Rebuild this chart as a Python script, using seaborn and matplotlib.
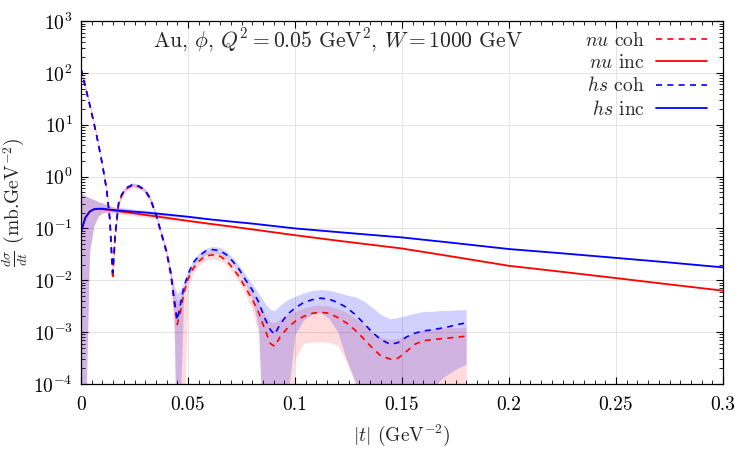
import numpy as np
import pandas as pd
import matplotlib
matplotlib.use("Agg")
import matplotlib.pyplot as plt
import matplotlib.ticker as mticker
import seaborn as sns

# ---------------- data ----------------
t_coh = [0, 0.002, 0.004, 0.006, 0.008, 0.010, 0.012, 0.0135, 0.0148, 0.016,
         0.0175, 0.019, 0.021, 0.024, 0.027, 0.030, 0.0325, 0.035, 0.0375, 0.040,
         0.042, 0.0435, 0.045, 0.0465, 0.048, 0.050, 0.0525, 0.055, 0.058, 0.0615,
         0.065, 0.068, 0.071, 0.074, 0.077, 0.080, 0.083, 0.086, 0.0885, 0.0905,
         0.093, 0.0965, 0.100, 0.104, 0.108, 0.112, 0.116, 0.120, 0.124, 0.128,
         0.132, 0.136, 0.140, 0.1445, 0.148, 0.152, 0.156, 0.160, 0.164, 0.168,
         0.172, 0.176, 0.180]

hs_coh = [120, 55, 25, 11, 4.5, 1.7, 0.55, 0.15, 0.014, 0.08,
          0.3, 0.45, 0.6, 0.7, 0.66, 0.55, 0.37, 0.19, 0.083, 0.036,
          0.014, 0.0045, 0.0017, 0.0035, 0.0072, 0.013, 0.022, 0.029, 0.036, 0.039,
          0.037, 0.031, 0.023, 0.016, 0.010, 0.0065, 0.0038, 0.0018, 0.0011, 0.0009,
          0.0014, 0.0022, 0.0029, 0.0037, 0.0042, 0.0045, 0.0043, 0.0037, 0.0030, 0.0022,
          0.0015, 0.0010, 0.00072, 0.00058, 0.00062, 0.0008, 0.00095, 0.00105, 0.0011, 0.00118,
          0.00127, 0.0014, 0.0015]
hs_coh_hi = [130, 59, 27, 11.9, 4.9, 1.84, 0.6, 0.165, 0.017, 0.088,
             0.33, 0.49, 0.65, 0.76, 0.71, 0.59, 0.4, 0.205, 0.09, 0.039,
             0.016, 0.008, 0.0055, 0.0065, 0.009, 0.015, 0.025, 0.033, 0.041, 0.045,
             0.043, 0.036, 0.027, 0.019, 0.0125, 0.0085, 0.0055, 0.0036, 0.0027, 0.0026,
             0.0033, 0.0042, 0.0049, 0.0057, 0.0063, 0.0066, 0.0064, 0.0058, 0.0052, 0.0048,
             0.0040, 0.0030, 0.0022, 0.0018, 0.0019, 0.0021, 0.0023, 0.0025, 0.0025, 0.0026,
             0.0026, 0.0027, 0.0027]
hs_coh_lo = [112, 51, 23, 10.2, 4.2, 1.58, 0.51, 0.14, 0.012, 0.074,
             0.28, 0.42, 0.56, 0.65, 0.61, 0.51, 0.34, 0.177, 0.077, 0.033,
             0.011, 0.002, 1e-6, 5e-5, 0.0055, 0.011, 0.019, 0.025, 0.031, 0.034,
             0.032, 0.027, 0.020, 0.0135, 0.0082, 0.0045, 0.0012, 1e-6, 1e-6, 1e-6,
             1e-6, 5e-5, 0.0009, 0.0017, 0.0022, 0.0024, 0.0018, 0.0010, 0.0003, 0.00011,
             1e-6, 1e-6, 1e-6, 1e-6, 1e-6, 1e-6, 1e-6, 1e-6, 0.00008, 0.00012,
             0.00016, 0.0002, 0.00024]

nu_coh = [120, 55, 25, 11, 4.5, 1.7, 0.55, 0.14, 0.0105, 0.07,
          0.28, 0.43, 0.58, 0.68, 0.64, 0.53, 0.35, 0.18, 0.078, 0.033,
          0.012, 0.0038, 0.0014, 0.0025, 0.0055, 0.0105, 0.017, 0.023, 0.029, 0.031,
          0.029, 0.024, 0.017, 0.0115, 0.007, 0.0043, 0.0024, 0.0011, 0.0006, 0.00053,
          0.0008, 0.0012, 0.0016, 0.0020, 0.0023, 0.0024, 0.0023, 0.0019, 0.0015, 0.0011,
          0.00075, 0.0005, 0.00035, 0.0003, 0.00031, 0.00042, 0.00058, 0.00068, 0.00071, 0.00074,
          0.00077, 0.0008, 0.00083]
nu_coh_hi = [130, 59, 27, 11.9, 4.9, 1.84, 0.6, 0.155, 0.013, 0.078,
             0.31, 0.47, 0.63, 0.74, 0.69, 0.57, 0.38, 0.195, 0.085, 0.036,
             0.014, 0.006, 0.004, 0.0045, 0.0075, 0.0125, 0.02, 0.027, 0.034, 0.036,
             0.034, 0.028, 0.020, 0.0138, 0.0088, 0.0058, 0.0036, 0.0022, 0.0016, 0.0015,
             0.0018, 0.0022, 0.0025, 0.0029, 0.0032, 0.0033, 0.0032, 0.0028, 0.0024, 0.0019,
             0.0014, 0.001, 0.0008, 0.00072, 0.00074, 0.00085, 0.001, 0.0011, 0.00115, 0.00118,
             0.0012, 0.00122, 0.00125]
nu_coh_lo = [108, 50, 22.5, 9.9, 4.0, 1.5, 0.49, 0.125, 0.0085, 0.062,
             0.25, 0.39, 0.52, 0.61, 0.58, 0.48, 0.31, 0.16, 0.07, 0.029,
             0.0095, 0.001, 1e-6, 1e-6, 1e-5, 0.007, 0.014, 0.019, 0.024, 0.026,
             0.024, 0.020, 0.014, 0.009, 0.0052, 0.0028, 0.0009, 1e-6, 1e-6, 1e-6,
             1e-6, 1e-6, 0.0003, 0.0006, 0.00064, 0.00065, 0.00063, 0.00055, 0.00028, 0.00011,
             1e-6, 1e-6, 1e-6, 1e-6, 1e-6, 1e-6, 1e-6, 1e-6, 1e-6, 1e-6,
             1e-6, 1e-6, 1e-6]

t_inc = [0, 0.002, 0.004, 0.006, 0.008, 0.010, 0.013, 0.016, 0.02, 0.025,
         0.03, 0.04, 0.05, 0.06, 0.07, 0.08, 0.1, 0.12, 0.15, 0.175,
         0.2, 0.225, 0.25, 0.275, 0.3]
hs_inc = [0.085, 0.16, 0.21, 0.235, 0.24, 0.24, 0.232, 0.225, 0.218, 0.21,
          0.203, 0.185, 0.168, 0.15, 0.136, 0.124, 0.1, 0.085, 0.067, 0.052,
          0.04, 0.033, 0.027, 0.022, 0.0177]
hs_inc_hi = [0.49, 0.43, 0.39, 0.36, 0.33, 0.31, 0.28, 0.26, 0.25, 0.235,
             0.222, 0.198, 0.176, 0.155, 0.14, 0.127, 0.102, 0.087, 0.068, 0.053,
             0.041, 0.0335, 0.0275, 0.0224, 0.018]
hs_inc_lo = [1e-6, 1e-5, 0.035, 0.11, 0.17, 0.2, 0.205, 0.205, 0.2, 0.193,
             0.188, 0.174, 0.16, 0.145, 0.132, 0.121, 0.098, 0.083, 0.066, 0.051,
             0.039, 0.0325, 0.0265, 0.0216, 0.0174]
nu_inc = [0.085, 0.16, 0.21, 0.232, 0.236, 0.235, 0.228, 0.22, 0.208, 0.195,
          0.182, 0.16, 0.14, 0.123, 0.109, 0.096, 0.074, 0.058, 0.041, 0.028,
          0.019, 0.0145, 0.011, 0.0083, 0.0063]
nu_inc_hi = [0.49, 0.43, 0.39, 0.36, 0.33, 0.31, 0.27, 0.25, 0.235, 0.218,
             0.202, 0.172, 0.148, 0.128, 0.113, 0.099, 0.076, 0.06, 0.042, 0.029,
             0.0195, 0.0149, 0.0113, 0.0085, 0.0065]
nu_inc_lo = [1e-6, 1e-5, 0.035, 0.11, 0.17, 0.2, 0.2, 0.195, 0.185, 0.174,
             0.164, 0.148, 0.132, 0.118, 0.105, 0.093, 0.072, 0.056, 0.04, 0.027,
             0.0185, 0.0141, 0.0107, 0.0081, 0.0061]

labels = [r"$nu$ coh", r"$nu$ inc", r"$hs$ coh", r"$hs$ inc"]
title_text = r"Au, $\phi$, $Q^2 = 0.05$ GeV$^2$, $W = 1000$ GeV"
xlabel_text = r"$|t|$ (GeV$^{-2}$)"
ylabel_text = r"$\frac{d\sigma}{dt}$ (mb.GeV$^{-2}$)"

# ---------------- style ----------------
sns.set_theme(style="ticks")
plt.rcParams.update({
    "font.family": ["cmr10", "DejaVu Serif"],
    "mathtext.fontset": "cm",
    "axes.formatter.use_mathtext": True,
    "axes.unicode_minus": False,
    "font.size": 14,
})

RED = (1, 0, 0)
BLUE = (0, 0, 1)

fig = plt.figure(figsize=(7.5, 4.5), dpi=100)
ax = fig.add_axes([0.108, 0.147, 0.856, 0.806])

coh = pd.DataFrame({"t": t_coh, "hs": hs_coh, "nu": nu_coh})
inc = pd.DataFrame({"t": t_inc, "hs": hs_inc, "nu": nu_inc})

# error bands (red first, blue on top gives a bluish purple overlap)
ax.fill_between(t_inc, nu_inc_lo, nu_inc_hi, color=RED, alpha=0.14, lw=0)
ax.fill_between(t_inc, hs_inc_lo, hs_inc_hi, color=BLUE, alpha=0.18, lw=0)
ax.fill_between(t_coh, nu_coh_lo, nu_coh_hi, color=RED, alpha=0.14, lw=0)
ax.fill_between(t_coh, hs_coh_lo, hs_coh_hi, color=BLUE, alpha=0.18, lw=0)

dash = (0, (3.6, 3.2))
sns.lineplot(data=coh, x="t", y="nu", ax=ax, color=RED, linestyle=dash,
             lw=1.2, label=labels[0], estimator=None, sort=False)
sns.lineplot(data=inc, x="t", y="nu", ax=ax, color=RED, lw=1.3,
             label=labels[1], estimator=None, sort=False)
sns.lineplot(data=coh, x="t", y="hs", ax=ax, color=BLUE, linestyle=dash,
             lw=1.2, label=labels[2], estimator=None, sort=False)
sns.lineplot(data=inc, x="t", y="hs", ax=ax, color=BLUE, lw=1.3,
             label=labels[3], estimator=None, sort=False)

ax.set_yscale("log")
ax.set_xlim(0, 0.3)
ax.set_ylim(1e-4, 1e3)

ax.xaxis.set_major_locator(mticker.MultipleLocator(0.05))
ax.xaxis.set_minor_locator(mticker.MultipleLocator(0.005))
ax.xaxis.set_major_formatter(mticker.FuncFormatter(lambda v, p: f"{v:g}"))
ax.yaxis.set_major_locator(mticker.LogLocator(base=10, numticks=20))
ax.yaxis.set_minor_locator(mticker.LogLocator(base=10, subs=np.arange(2, 10), numticks=20))
ax.yaxis.set_minor_formatter(mticker.NullFormatter())

ax.tick_params(which="both", direction="in", top=True, right=True, colors="black",
               labelsize=14)
ax.tick_params(which="major", length=5, width=0.8)
ax.tick_params(axis="x", which="major", pad=9)
ax.tick_params(axis="y", which="major", pad=6)
ax.tick_params(which="minor", length=3, width=0.6)
ax.grid(True, which="major", color="#e4e4e4", lw=0.7)
ax.set_axisbelow(True)
for s in ax.spines.values():
    s.set_color("black")
    s.set_linewidth(0.9)

ax.set_xlabel(xlabel_text, fontsize=14, labelpad=6)
ax.set_ylabel(ylabel_text, fontsize=14)
ax.yaxis.set_label_coords(-0.079, 0.5)

ax.text(0.40, 0.947, title_text, transform=ax.transAxes, ha="center",
        va="center", fontsize=15.5)

leg = ax.legend(loc="upper right", bbox_to_anchor=(0.996, 1.008), frameon=False,
                markerfirst=False, fontsize=14, handlelength=2.6,
                handletextpad=0.6, labelspacing=0.22, borderaxespad=0.3)
for txt in leg.get_texts():
    txt.set_ha("right")

fig.savefig("out.png", dpi=100)
